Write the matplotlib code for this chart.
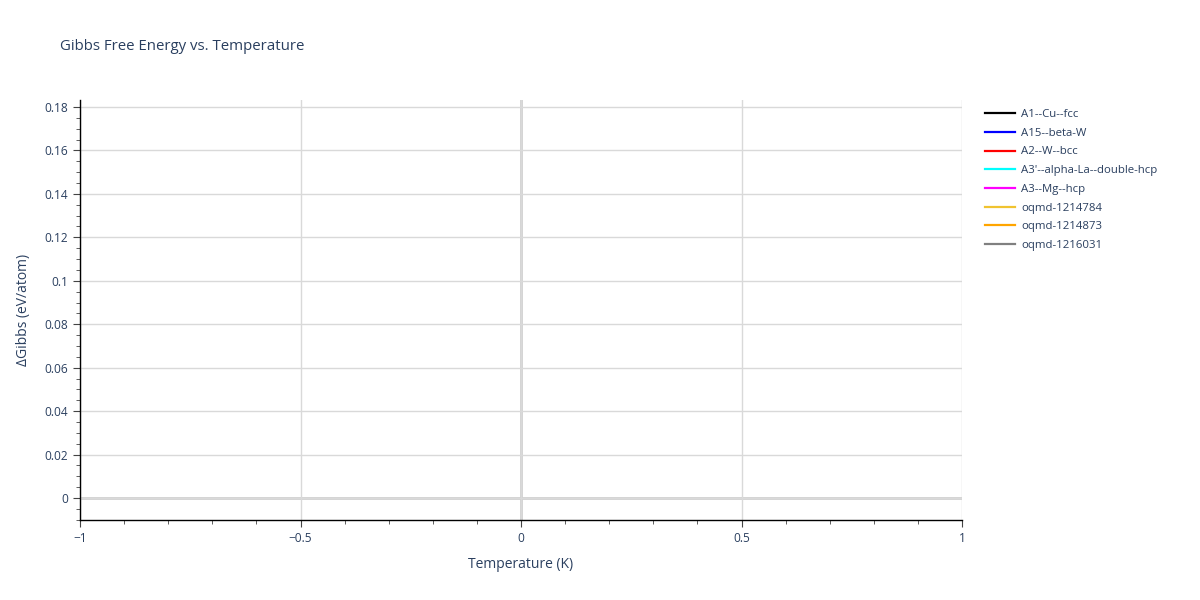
import matplotlib
matplotlib.use("Agg")
import matplotlib.pyplot as plt
from matplotlib.ticker import MultipleLocator, FuncFormatter

# phases and their (empty-ish) data: one point at T=0, dG=0
phases = ["A1--Cu--fcc", "A15--beta-W", "A2--W--bcc", "A3'--alpha-La--double-hcp",
          "A3--Mg--hcp", "oqmd-1214784", "oqmd-1214873", "oqmd-1216031"]
colors = ["black", "blue", "red", "cyan", "magenta", "#f0c330", "orange", "grey"]
temperature = [[0], [0], [0], [0], [0], [0], [0], [0]]
gibbs = [[0], [0], [0], [0], [0], [0], [0], [0]]

plt.rcParams['font.family'] = ['Open Sans', 'DejaVu Sans']
txt = '#2a3f5f'

fig = plt.figure(figsize=(12, 6), dpi=100)
ax = fig.add_axes([80/1200, 80/600, 882/1200, 420/600])

for name, c, t, g in zip(phases, colors, temperature, gibbs):
	ax.plot(t, g, color=c, lw=1.6, label=name)

ax.set_xlim(-1, 1)
ax.set_ylim(-0.0101, 0.1832)

ax.xaxis.set_major_locator(MultipleLocator(0.5))
ax.xaxis.set_minor_locator(MultipleLocator(0.1))
ax.yaxis.set_major_locator(MultipleLocator(0.02))
ax.yaxis.set_minor_locator(MultipleLocator(0.005))

def fmt(v, pos):
	s = '%g' % round(v, 4)
	return s.replace('-', '\u2212')
ax.xaxis.set_major_formatter(FuncFormatter(fmt))
ax.yaxis.set_major_formatter(FuncFormatter(fmt))

ax.grid(True, which='major', color='#d9d9d9', lw=1)
ax.axhline(0, color='#d0d0d0', lw=2, zorder=1)
ax.axvline(0, color='#d0d0d0', lw=2, zorder=1)

for s in ['top', 'right']:
	ax.spines[s].set_visible(False)
for s in ['left', 'bottom']:
	ax.spines[s].set_color('black')
	ax.spines[s].set_linewidth(1)

ax.tick_params(which='major', direction='out', length=5, color='#444444', labelsize=8.6, labelcolor=txt)
ax.tick_params(which='minor', direction='out', length=3, color='#444444')

ax.set_xlabel('Temperature (K)', fontsize=10, color=txt, labelpad=9)
ax.set_ylabel('ΔGibbs (eV/atom)', fontsize=10, color=txt, labelpad=10)

fig.text(60/1200, 1 - 46/600, 'Gibbs Free Energy vs. Temperature', fontsize=10.8, color=txt, va='center')

leg = ax.legend(loc='upper left', bbox_to_anchor=(985/1200, 1 - 109/600), bbox_transform=fig.transFigure,
	frameon=False, fontsize=8.2, handlelength=2.65, handletextpad=0.5, labelspacing=0.68, borderaxespad=0,
	borderpad=0)
for t in leg.get_texts():
	t.set_color(txt)

fig.savefig('out.png', dpi=100)
